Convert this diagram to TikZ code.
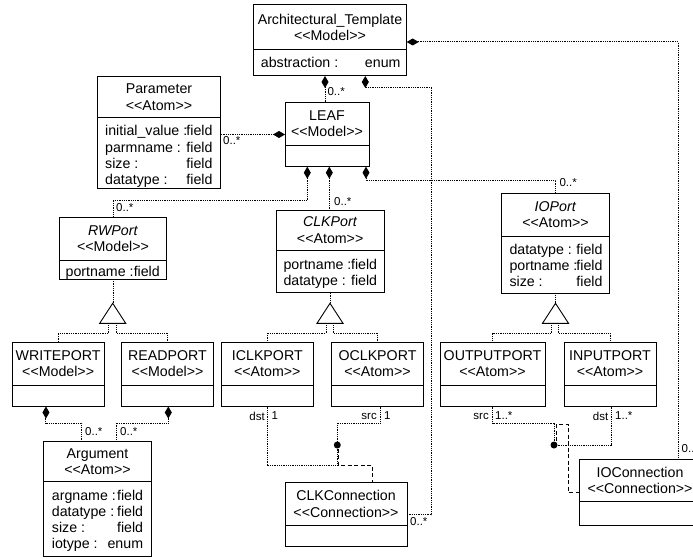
\documentclass[tikz,border=0pt]{standalone}
\usepackage{fontspec}
\newfontfamily\umlfont{Liberation Sans}
\usetikzlibrary{arrows.meta,calc}

% stereotype brackets, kept as separate characters
\newcommand\stereo[1]{<\kern0pt<#1>\kern0pt>}

\tikzset{
  umlbox/.style={draw, line width=1pt, inner sep=0pt, outer sep=0pt, fill=white},
  sepline/.style={line width=1pt},
  titletext/.style={font=\umlfont\fontsize{14.2}{16.5}\selectfont, align=center, inner sep=0pt},
  attrtext/.style={font=\umlfont\fontsize{14.2}{16.5}\selectfont, inner sep=0pt},
  mult/.style={font=\umlfont\fontsize{11.5}{13}\selectfont, inner sep=0pt},
  conn/.style={line width=1pt, dash pattern=on 1pt off 0.8pt},
  assoc/.style={line width=0.9pt, dash pattern=on 4pt off 2.5pt},
  comp/.tip={Diamond[length=12pt,width=7pt]},
  gentri/.style={draw, line width=0.9pt, fill=white},
  joint/.style={circle, fill=black, inner sep=0pt, minimum size=7pt},
}

% class box: name, left, top, right, bottom, separator y, title
\newcommand\umlclass[7]{%
  \node[umlbox, anchor=north west, minimum width={(#4-#2)*1pt},
        minimum height={(#5-#3)*1pt}] (#1) at (#2,#3) {};
  \draw[sepline] (#2,#6) -- (#4,#6);
  \node[titletext] (#1-title) at ({(#2+#4)/2},{(#3+#6)/2}) {#7};
}
% attribute line: name, left x, right x, baseline y, attribute, type
\newcommand\attr[6]{%
  \node[attrtext, anchor=base west] (#1-l) at (#2,#4) {#5};
  \node[attrtext, anchor=base east] (#1-r) at (#3,#4) {#6};
}

\begin{document}
\begin{tikzpicture}[x=1pt,y=-1pt]
\useasboundingbox (0,0) rectangle (693,559);
\clip (0,0) rectangle (693,559);

% ---- classes ----
\umlclass{arch}{253.3}{5}{406.7}{76}{50}{Architectural\_Template\\\stereo{Model}}
\attr{arch-a1}{260.7}{400.7}{67.5}{abstraction :}{enum}

\umlclass{param}{97.3}{76.7}{220.7}{188.3}{117.3}{Parameter\\\stereo{Atom}}
\attr{param-a1}{105}{212.7}{135.8}{initial\_value :}{field}
\attr{param-a2}{105}{212.7}{152}{parmname :}{field}
\attr{param-a3}{105}{212.7}{168.2}{size :}{field}
\attr{param-a4}{105}{212.7}{184.4}{datatype :}{field}

\umlclass{leaf}{285}{102.3}{369}{166.7}{145}{LEAF\\\stereo{Model}}

\umlclass{rwport}{59.3}{217.3}{166.7}{279}{260}{\textit{RWPort}\\\stereo{Model}}
\attr{rwport-a1}{65.5}{160}{276}{portname :}{field}

\umlclass{clkport}{276}{210}{384.3}{292.7}{250.7}{\textit{CLKPort}\\\stereo{Atom}}
\attr{clkport-a1}{283.3}{377.3}{269.2}{portname :}{field}
\attr{clkport-a2}{283.3}{377.3}{285.4}{datatype :}{field}

\umlclass{ioport}{501.7}{193.3}{609.3}{293.3}{236}{\textit{IOPort}\\\stereo{Atom}}
\attr{ioport-a1}{509.3}{602.7}{254.5}{datatype :}{field}
\attr{ioport-a2}{509.3}{602.7}{270.7}{portname :}{field}
\attr{ioport-a3}{509.3}{602.7}{286.9}{size :}{field}

\umlclass{writeport}{12.3}{342.7}{104}{406.5}{385}{WRITEPORT\\\stereo{Model}}
\umlclass{readport}{121.7}{342.7}{213.3}{406.5}{385}{READPORT\\\stereo{Model}}
\umlclass{iclkport}{221.3}{342.7}{313.3}{406.5}{385}{ICLKPORT\\\stereo{Atom}}
\umlclass{oclkport}{331.7}{342.7}{423.3}{406.5}{385}{OCLKPORT\\\stereo{Atom}}
\umlclass{outputport}{440}{342.7}{545}{406.5}{385}{OUTPUTPORT\\\stereo{Atom}}
\umlclass{inputport}{564}{342.7}{656}{406.5}{385}{INPUTPORT\\\stereo{Atom}}

\umlclass{argument}{43.3}{441.7}{151.7}{556.7}{481.7}{Argument\\\stereo{Atom}}
\attr{argument-a1}{51.7}{143.3}{500.2}{argname :}{field}
\attr{argument-a2}{51.7}{143.3}{516.4}{datatype :}{field}
\attr{argument-a3}{51.7}{143.3}{532.6}{size :}{field}
\attr{argument-a4}{51.7}{143.3}{548.8}{iotype :}{enum}

\umlclass{clkconn}{285}{482.7}{407}{546.7}{525}{CLKConnection\\\stereo{Connection}}
\umlclass{ioconn}{579}{459}{701}{525}{501.7}{IOConnection\\\stereo{Connection}}

% ---- compositions of Architectural_Template ----
\coordinate (archbend) at (431,88);
\draw[conn, comp-] ([xshift=-5pt]arch.south) -- ([xshift=-5pt]arch.south |- leaf.north);
\draw[conn, comp-] ([xshift=35.3pt]arch.south) |- (archbend) |- (clkconn.east);
\draw[conn, comp-] ([yshift=-1.5pt]arch.east) -| ([xshift=38pt]ioconn.north);

% ---- compositions of LEAF ----
\draw[conn, -comp] (leaf.west -| param.east) -- (leaf.west);
\draw[conn, comp-] ([xshift=-19.7pt]leaf.south) -- ++(0,34) -| (rwport.north);
\draw[conn, comp-] ([xshift=2.3pt]leaf.south) -- ([xshift=2.3pt]leaf.south |- clkport.north);
\draw[conn, comp-] ([xshift=39pt]leaf.south) -- ++(0,13.3) -| (ioport.north);

% ---- arguments of the ports ----
\draw[conn, comp-] ([xshift=-12.2pt]writeport.south) -- ++(0,16.8) -| ([xshift=-15.8pt]argument.north);
\draw[conn, comp-] ([xshift=0.8pt]readport.south) -- ++(0,16.8) -| ([xshift=18.5pt]argument.north);

% ---- clock connection ----
\node[joint] (clkdot) at (337.3,445) {};
\draw[conn] (iclkport.south) -- ++(0,58.5) -| (clkdot);
\draw[conn] ([xshift=2.5pt]oclkport.south) -- ++(0,16.8) -| (clkdot);
\draw[assoc] ([xshift=1.5pt]clkdot.south) -- ++(0,17) -| ([xshift=26.7pt]clkconn.north);

% ---- IO connection ----
\node[joint] (iodot) at (554,445) {};
\coordinate (iobend) at (568.3,424.3);
\draw[conn] (outputport.south) -- ++(0,16.8) -| (iodot);
\draw[conn] ([xshift=1.7pt]inputport.south) |- (iodot);
\draw[assoc] ([xshift=2.5pt]iodot.north) |- (iobend) |- (ioconn.west);

% ---- generalisations ----
\coordinate (rwbase) at (112.7,323.3);
\coordinate (clkbase) at (330,323.3);
\coordinate (iobase) at (555.5,323.3);
\draw[conn] (rwport.south) -- ([yshift=20pt]rwbase -| rwport.south);
\draw[conn] (clkport.south) -- ([yshift=20pt]clkbase -| clkport.south);
\draw[conn] (ioport.south) -- ([yshift=20pt]iobase -| ioport.south);
\draw[conn] ([xshift=-4pt]rwbase) -- ++(0,10) -| (writeport.north);
\draw[conn] ([xshift=3.5pt]rwbase) -- ++(0,10) -| (readport.north);
\draw[conn] ([xshift=-4pt]clkbase) -- ++(0,10) -| (iclkport.north);
\draw[conn] ([xshift=3.3pt]clkbase) -- ++(0,10) -| (oclkport.north);
\draw[conn] ([xshift=-3.8pt]iobase) -- ++(0,10) -| (outputport.north);
\draw[conn] ([xshift=2.8pt]iobase) -- ++(0,10) -| (inputport.north);
\draw[gentri] ([xshift=-13pt]rwbase) -- ++(13,-20) -- ++(13,20) -- cycle;
\draw[gentri] ([xshift=-13pt]clkbase) -- ++(13,-20) -- ++(13,20) -- cycle;
\draw[gentri] ([xshift=-13pt]iobase) -- ++(13,-20) -- ++(13,20) -- cycle;

% ---- multiplicities and roles ----
\node[mult, anchor=west] (m-archleaf) at (327.3,91.5) {0..*};
\node[mult, anchor=west] (m-paramleaf) at (223,141) {0..*};
\node[mult, anchor=west] (m-leafrw) at (116,208) {0..*};
\node[mult, anchor=west] (m-leafclk) at (334,202) {0..*};
\node[mult, anchor=west] (m-leafio) at (559.3,183) {0..*};
\node[mult, anchor=west] (m-archclk) at (410,521.5) {0..*};
\node[mult, anchor=west] (m-archio) at (681.5,449) {0..};
\node[mult, anchor=west] (m-writearg) at (85,432) {0..*};
\node[mult, anchor=west] (m-readarg) at (120,432) {0..*};
\node[mult, anchor=east] (r-iclk) at (265,416) {dst};
\node[mult, anchor=west] (m-iclk) at (271.5,416) {1};
\node[mult, anchor=east] (r-oclk) at (377,416) {src};
\node[mult, anchor=west] (m-oclk) at (384,416) {1};
\node[mult, anchor=east] (r-out) at (489,416) {src};
\node[mult, anchor=west] (m-out) at (495,416) {1..*};
\node[mult, anchor=east] (r-in) at (608.5,416) {dst};
\node[mult, anchor=west] (m-in) at (615,416) {1..*};
\end{tikzpicture}
\end{document}
